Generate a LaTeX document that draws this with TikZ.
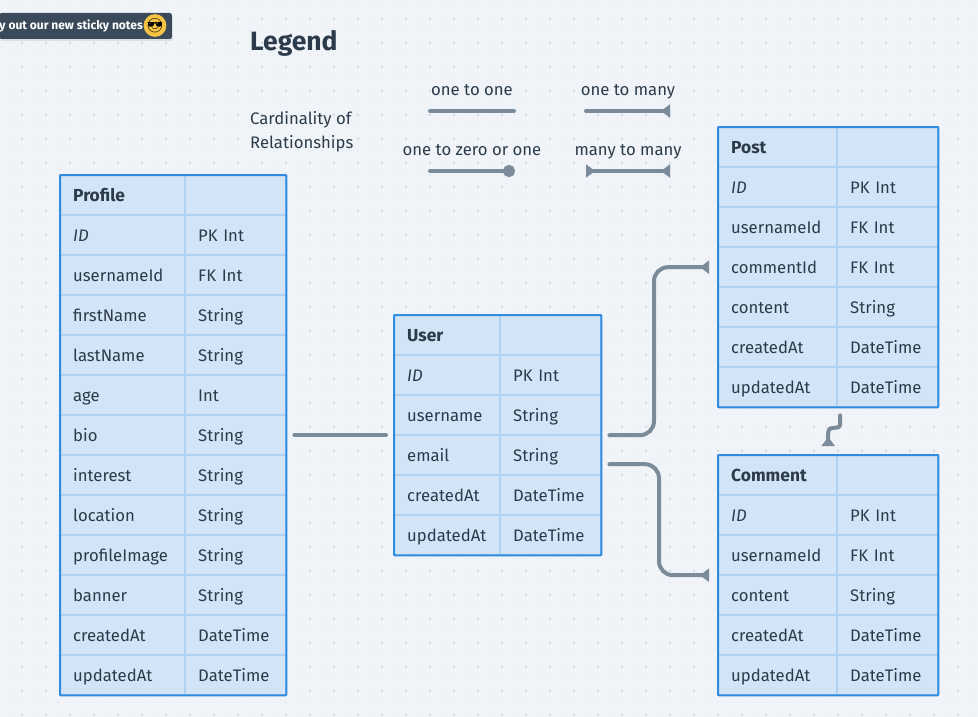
\documentclass[tikz,border=0pt]{standalone}
\usepackage{fontspec}
\setmainfont{Fira Sans}
\newfontfamily\emojiFont{Noto Emoji}
\definecolor{bgCanvas}{HTML}{F0F4F8}
\definecolor{dotStrong}{HTML}{C8CFD6}
\definecolor{dotFaint}{HTML}{E0E5EA}
\definecolor{cellFill}{HTML}{D2E4F6}
\definecolor{cellRule}{HTML}{B0D2F2}
\definecolor{tableEdge}{HTML}{2F8CDE}
\definecolor{textDark}{HTML}{2B3B4B}
\definecolor{relGrey}{HTML}{7B8B9A}
\definecolor{stickyBg}{HTML}{3B4A5A}
\definecolor{emojiYellow}{HTML}{F6C445}
\usetikzlibrary{calc, matrix, arrows.meta, shadows}
\tikzset{
  labelText/.style={text=textDark, font=\fontsize{16.7}{20}\selectfont, inner sep=0pt},
  legendLabel/.style={labelText, text height=12pt, text depth=4pt},
  relLine/.style={draw=relGrey, line width=4pt, line cap=round, rounded corners=14pt},
  manyEnd/.style={-{Triangle[reversed, length=9pt, width=13pt, fill=relGrey]}},
  erTable/.style={matrix of nodes, anchor=north west, inner sep=0pt, row sep=-2pt, column sep=-2pt,
    nodes in empty cells,
    nodes={draw=cellRule, fill=cellFill, line width=2pt, outer sep=0pt, minimum height=40pt, inner sep=0pt,
      text=textDark, align=left, font=\fontsize{16.7}{20}\selectfont, execute at begin node=\rule[-5pt]{0pt}{22pt}}},
  tableFrame/.style={draw=tableEdge, line width=2pt, rounded corners=1pt},
  colA/.style={text width=#1pt-26pt, minimum width=#1pt},
}
\newcommand{\headCell}[1]{{\bfseries\fontsize{17.4}{20}\selectfont #1}}
\begin{document}
\begin{tikzpicture}[x=1pt, y=-1pt]
  \useasboundingbox[fill=bgCanvas] (0,0) rectangle (978,717);
  % dotted canvas
  \foreach \i in {0,...,81} {
    \foreach \j in {0,...,59} {
      \pgfmathtruncatemacro{\strong}{(mod(\i,2)==1 && mod(\j,2)==1) ? 1 : 0}
      \ifnum\strong=1
        \fill[dotStrong] (10+12*\i,6.7+12*\j) circle (1.1pt);
      \else
        \fill[dotFaint] (10+12*\i,6.7+12*\j) circle (0.8pt);
      \fi
    }
  }

  \node[fill=stickyBg, anchor=east, rounded corners=2pt, minimum height=26pt, inner sep=0pt,
        drop shadow={opacity=0.18, shadow xshift=1pt, shadow yshift=-2pt},
        text=white, font=\bfseries\fontsize{12}{15}\selectfont]
        (stickyNote) at (172,26) {y out our new sticky notes\kern29pt};
  \node[circle, fill=emojiYellow, inner sep=0pt, minimum size=12pt, text=black,
        font=\emojiFont\fontsize{14}{14}\selectfont] (stickyEmoji) at (155,25.5) {😎};

  \node[labelText, anchor=west, font=\bfseries\fontsize{26.5}{30}\selectfont] (legendTitle) at (250,43) {Legend};
  \node[labelText, anchor=west, align=left, font=\fontsize{16.7}{24}\selectfont] (legendCaption) at (250,132) {Cardinality of\\Relationships};
  \node[legendLabel] (oneToOne) at (472,91.5) {one to one};
  \node[legendLabel] (oneToMany) at (628,91.5) {one to many};
  \node[legendLabel] (oneToZero) at (472,151.5) {one to zero or one};
  \node[legendLabel] (manyToMany) at (628,151.5) {many to many};

  % legend samples
  \coordinate (oneOneA) at (430,111);
  \coordinate (oneOneB) at (514,111);
  \coordinate (oneManyA) at (586,111);
  \coordinate (oneManyB) at (670,111);
  \coordinate (zeroOneA) at (430,171);
  \coordinate (zeroOneB) at (515,171);
  \coordinate (manyManyA) at (586,171);
  \coordinate (manyManyB) at (670,171);
  \draw[relLine] (oneOneA) -- (oneOneB);
  \draw[relLine, manyEnd] (oneManyA) -- (oneManyB);
  \draw[relLine, -{Circle[length=12pt, fill=relGrey]}] (zeroOneA) -- (zeroOneB);
  \draw[relLine, {Triangle[reversed, length=9pt, width=13pt, fill=relGrey]}-{Triangle[reversed, length=9pt, width=13pt, fill=relGrey]}] (manyManyA) -- (manyManyB);

  \matrix (profileBox) [erTable, column 1/.style={nodes={colA=125}}, column 2/.style={nodes={colA=101}}] at (59,174) {
    \headCell{Profile} & \\
    \textit{ID} & PK Int \\
    usernameId & FK Int \\
    firstName & String \\
    lastName & String \\
    age & Int \\
    bio & String \\
    interest & String \\
    location & String \\
    profileImage & String \\
    banner & String \\
    createdAt & DateTime \\
    updatedAt & DateTime \\
  };
  \matrix (userBox) [erTable, column 1/.style={nodes={colA=106}}, column 2/.style={nodes={colA=101}}] at (393,314) {
    \headCell{User} & \\
    \textit{ID} & PK Int \\
    username & String \\
    email & String \\
    createdAt & DateTime \\
    updatedAt & DateTime \\
  };
  \matrix (postBox) [erTable, column 1/.style={nodes={colA=119}}, column 2/.style={nodes={colA=101}}] at (717,126) {
    \headCell{Post} & \\
    \textit{ID} & PK Int \\
    usernameId & FK Int \\
    commentId & FK Int \\
    content & String \\
    createdAt & DateTime \\
    updatedAt & DateTime \\
  };
  \matrix (commentBox) [erTable, column 1/.style={nodes={colA=119}}, column 2/.style={nodes={colA=101}}] at (717,454) {
    \headCell{Comment} & \\
    \textit{ID} & PK Int \\
    usernameId & FK Int \\
    content & String \\
    createdAt & DateTime \\
    updatedAt & DateTime \\
  };
  \foreach \tbl in {profileBox,userBox,postBox,commentBox}
    \draw[tableFrame] ([shift={(1,1)}]\tbl.north west) rectangle ([shift={(-1,-1)}]\tbl.south east);

  % relations
  \draw[relLine, shorten <=7pt, shorten >=7pt] (profileBox.east) -- (userBox.west);
  \draw[relLine, manyEnd, shorten >=8pt] ($(userBox.east)+(7,0)$) -| (654,300) |- (postBox.west);
  \draw[relLine, manyEnd, shorten >=8pt] ($(userBox.east)+(7,29)$) -| (659,520) |- (commentBox.west);
  \draw[draw=relGrey, line width=4pt, manyEnd, line cap=round]
    ($(postBox.south)+(12,7)$) -- ($(postBox.south)+(12,15)$)
    .. controls ($(postBox.south)+(12,24)$) and ($(commentBox.north)+(0,-31)$) .. ($(commentBox.north)+(0,-21)$)
    -- ($(commentBox.north)+(0,-8)$);
\end{tikzpicture}
\end{document}
